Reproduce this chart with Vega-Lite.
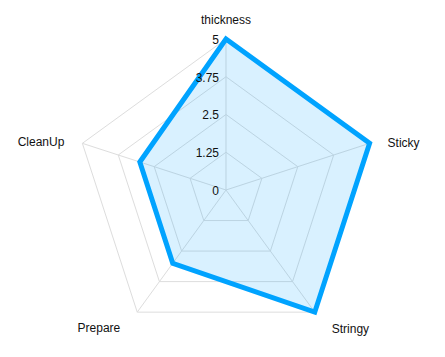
{
  "$schema": "https://vega.github.io/schema/vega-lite/v6.json",
  "width": 445,
  "height": 357,
  "autosize": {"type": "none"},
  "padding": 0,
  "config": {"view": {"stroke": null}, "font": "Liberation Sans", "text": {"fontSize": 12, "color": "#222"}},
  "datasets": {
    "scores": [
      {"attribute": "thickness", "order": 0, "score": 5},
      {"attribute": "Sticky", "order": 1, "score": 5},
      {"attribute": "Stringy", "order": 2, "score": 5},
      {"attribute": "Prepare", "order": 3, "score": 3},
      {"attribute": "CleanUp", "order": 4, "score": 3}
    ],
    "grid": [
      {"level": 1.25, "order": 0}, {"level": 1.25, "order": 1}, {"level": 1.25, "order": 2}, {"level": 1.25, "order": 3}, {"level": 1.25, "order": 4},
      {"level": 2.5, "order": 0}, {"level": 2.5, "order": 1}, {"level": 2.5, "order": 2}, {"level": 2.5, "order": 3}, {"level": 2.5, "order": 4},
      {"level": 3.75, "order": 0}, {"level": 3.75, "order": 1}, {"level": 3.75, "order": 2}, {"level": 3.75, "order": 3}, {"level": 3.75, "order": 4},
      {"level": 5, "order": 0}, {"level": 5, "order": 1}, {"level": 5, "order": 2}, {"level": 5, "order": 3}, {"level": 5, "order": 4}
    ],
    "ticks": [{"tick": 0}, {"tick": 1.25}, {"tick": 2.5}, {"tick": 3.75}, {"tick": 5}]
  },
  "layer": [
    {
      "data": {"name": "grid"},
      "transform": [
        {"calculate": "datum.level * sin(datum.order * 2 * PI / 5)", "as": "gx"},
        {"calculate": "datum.level * cos(datum.order * 2 * PI / 5)", "as": "gy"}
      ],
      "mark": {"type": "line", "interpolate": "linear-closed", "stroke": "#dddddd", "strokeWidth": 1},
      "encoding": {
        "x": {"field": "gx", "type": "quantitative", "scale": {"domain": [-7.483, 7.252], "nice": false, "zero": false}, "axis": null},
        "y": {"field": "gy", "type": "quantitative", "scale": {"domain": [-5.53, 6.291], "nice": false, "zero": false}, "axis": null},
        "detail": {"field": "level", "type": "nominal"},
        "order": {"field": "order", "type": "quantitative"}
      }
    },
    {
      "data": {"name": "scores"},
      "transform": [
        {"calculate": "5 * sin(datum.order * 2 * PI / 5)", "as": "sx"},
        {"calculate": "5 * cos(datum.order * 2 * PI / 5)", "as": "sy"},
        {"calculate": "0", "as": "cx"},
        {"calculate": "0", "as": "cy"}
      ],
      "mark": {"type": "rule", "stroke": "#dddddd", "strokeWidth": 1},
      "encoding": {
        "x": {"field": "cx", "type": "quantitative", "scale": {"domain": [-7.483, 7.252], "nice": false, "zero": false}, "axis": null},
        "y": {"field": "cy", "type": "quantitative", "scale": {"domain": [-5.53, 6.291], "nice": false, "zero": false}, "axis": null},
        "x2": {"field": "sx"},
        "y2": {"field": "sy"}
      }
    },
    {
      "data": {"name": "scores"},
      "transform": [
        {"calculate": "datum.score * sin(datum.order * 2 * PI / 5)", "as": "px"},
        {"calculate": "datum.score * cos(datum.order * 2 * PI / 5)", "as": "py"}
      ],
      "mark": {"type": "line", "interpolate": "linear-closed", "fill": "#00a3ff", "fillOpacity": 0.15, "stroke": "#00a3ff", "strokeWidth": 5, "strokeJoin": "miter", "strokeMiterLimit": 10},
      "encoding": {
        "x": {"field": "px", "type": "quantitative", "scale": {"domain": [-7.483, 7.252], "nice": false, "zero": false}, "axis": null},
        "y": {"field": "py", "type": "quantitative", "scale": {"domain": [-5.53, 6.291], "nice": false, "zero": false}, "axis": null},
        "order": {"field": "order", "type": "quantitative"}
      }
    },
    {
      "data": {"name": "ticks"},
      "transform": [{"calculate": "0", "as": "tx"}],
      "mark": {"type": "text", "align": "right", "baseline": "middle", "dx": -7, "dy": 1, "color": "#111"},
      "encoding": {
        "x": {"field": "tx", "type": "quantitative", "scale": {"domain": [-7.483, 7.252], "nice": false, "zero": false}, "axis": null},
        "y": {"field": "tick", "type": "quantitative", "scale": {"domain": [-5.53, 6.291], "nice": false, "zero": false}, "axis": null},
        "text": {"field": "tick", "type": "nominal"}
      }
    },
    {
      "data": {"name": "scores"},
      "transform": [
        {"filter": "datum.attribute == 'thickness'"},
        {"calculate": "5 * sin(datum.order * 2 * PI / 5)", "as": "lx"},
        {"calculate": "5 * cos(datum.order * 2 * PI / 5)", "as": "ly"}
      ],
      "mark": {"type": "text", "align": "center", "baseline": "middle", "dy": -19, "color": "#111"},
      "encoding": {
        "x": {"field": "lx", "type": "quantitative", "scale": {"domain": [-7.483, 7.252], "nice": false, "zero": false}, "axis": null},
        "y": {"field": "ly", "type": "quantitative", "scale": {"domain": [-5.53, 6.291], "nice": false, "zero": false}, "axis": null},
        "text": {"field": "attribute", "type": "nominal"}
      }
    },
    {
      "data": {"name": "scores"},
      "transform": [
        {"filter": "datum.attribute == 'Sticky'"},
        {"calculate": "5 * sin(datum.order * 2 * PI / 5)", "as": "lx"},
        {"calculate": "5 * cos(datum.order * 2 * PI / 5)", "as": "ly"}
      ],
      "mark": {"type": "text", "align": "left", "baseline": "middle", "dx": 18, "dy": 0, "color": "#111"},
      "encoding": {
        "x": {"field": "lx", "type": "quantitative", "scale": {"domain": [-7.483, 7.252], "nice": false, "zero": false}, "axis": null},
        "y": {"field": "ly", "type": "quantitative", "scale": {"domain": [-5.53, 6.291], "nice": false, "zero": false}, "axis": null},
        "text": {"field": "attribute", "type": "nominal"}
      }
    },
    {
      "data": {"name": "scores"},
      "transform": [
        {"filter": "datum.attribute == 'Stringy'"},
        {"calculate": "5 * sin(datum.order * 2 * PI / 5)", "as": "lx"},
        {"calculate": "5 * cos(datum.order * 2 * PI / 5)", "as": "ly"}
      ],
      "mark": {"type": "text", "align": "left", "baseline": "middle", "dx": 17, "dy": 17, "color": "#111"},
      "encoding": {
        "x": {"field": "lx", "type": "quantitative", "scale": {"domain": [-7.483, 7.252], "nice": false, "zero": false}, "axis": null},
        "y": {"field": "ly", "type": "quantitative", "scale": {"domain": [-5.53, 6.291], "nice": false, "zero": false}, "axis": null},
        "text": {"field": "attribute", "type": "nominal"}
      }
    },
    {
      "data": {"name": "scores"},
      "transform": [
        {"filter": "datum.attribute == 'Prepare'"},
        {"calculate": "5 * sin(datum.order * 2 * PI / 5)", "as": "lx"},
        {"calculate": "5 * cos(datum.order * 2 * PI / 5)", "as": "ly"}
      ],
      "mark": {"type": "text", "align": "right", "baseline": "middle", "dx": -17, "dy": 16, "color": "#111"},
      "encoding": {
        "x": {"field": "lx", "type": "quantitative", "scale": {"domain": [-7.483, 7.252], "nice": false, "zero": false}, "axis": null},
        "y": {"field": "ly", "type": "quantitative", "scale": {"domain": [-5.53, 6.291], "nice": false, "zero": false}, "axis": null},
        "text": {"field": "attribute", "type": "nominal"}
      }
    },
    {
      "data": {"name": "scores"},
      "transform": [
        {"filter": "datum.attribute == 'CleanUp'"},
        {"calculate": "5 * sin(datum.order * 2 * PI / 5)", "as": "lx"},
        {"calculate": "5 * cos(datum.order * 2 * PI / 5)", "as": "ly"}
      ],
      "mark": {"type": "text", "align": "right", "baseline": "middle", "dx": -18, "dy": -1, "color": "#111"},
      "encoding": {
        "x": {"field": "lx", "type": "quantitative", "scale": {"domain": [-7.483, 7.252], "nice": false, "zero": false}, "axis": null},
        "y": {"field": "ly", "type": "quantitative", "scale": {"domain": [-5.53, 6.291], "nice": false, "zero": false}, "axis": null},
        "text": {"field": "attribute", "type": "nominal"}
      }
    }
  ]
}
